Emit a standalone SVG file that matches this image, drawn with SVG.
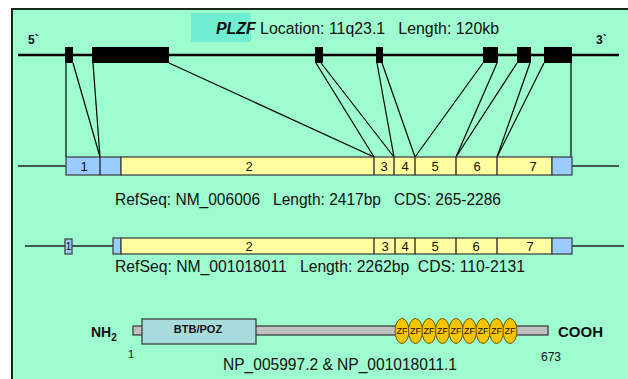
<svg xmlns="http://www.w3.org/2000/svg" width="628" height="379" viewBox="0 0 628 379">
<style>
text{font-family:"Liberation Sans",Arial,sans-serif;fill:#111}
.t{font-size:16px}
.n{font-size:13px}
.b{font-weight:bold}
.gl{stroke:#000;stroke-width:2.5}
.ex{fill:#000}
.c{stroke:#000;stroke-width:1.2;fill:none}
.y{fill:#ffffa0;stroke:#444;stroke-width:1.3}
.bl{fill:#99ccff;stroke:#444;stroke-width:1.3}
.tl{stroke:#222;stroke-width:1.3}
.zf{fill:#f7c400;stroke:#6a5a00;stroke-width:1}
.zt{font-size:9px;fill:#7a6a10}
</style>
<rect x="0" y="0" width="628" height="379" fill="#fff"/>
<rect x="12" y="9" width="640" height="400" fill="#9dfdcf" stroke="#1a2a1a" stroke-width="2"/>

<g id="title">
<rect x="191" y="13" width="60" height="29" fill="#6feed2"/>
<text class="t" x="216" y="34" xml:space="preserve" textLength="283" lengthAdjust="spacingAndGlyphs"><tspan class="b" font-style="italic">PLZF</tspan> Location: 11q23.1   Length: 120kb</text>
</g>

<g id="genomic">
<text class="b" font-size="12" x="28" y="44">5`</text>
<text class="b" font-size="12" x="596" y="44">3`</text>
<line class="gl" x1="18" y1="55" x2="619" y2="55"/>
<rect class="ex" x="65" y="47" width="8" height="16"/>
<rect class="ex" x="92" y="47" width="77" height="16"/>
<rect class="ex" x="315" y="47" width="8" height="16"/>
<rect class="ex" x="376" y="47" width="7" height="16"/>
<rect class="ex" x="483" y="47" width="15" height="16"/>
<rect class="ex" x="517" y="47" width="14" height="16"/>
<rect class="ex" x="544" y="47" width="28" height="16"/>
</g>

<g id="connectors">
<line class="c" x1="66" y1="63" x2="66" y2="157"/>
<line class="c" x1="73" y1="63" x2="100" y2="157"/>
<line class="c" x1="93" y1="63" x2="100" y2="157"/>
<line class="c" x1="169" y1="63" x2="374" y2="157"/>
<line class="c" x1="316" y1="63" x2="374" y2="157"/>
<line class="c" x1="321" y1="63" x2="394" y2="157"/>
<line class="c" x1="377" y1="63" x2="394" y2="157"/>
<line class="c" x1="382" y1="63" x2="415" y2="157"/>
<line class="c" x1="483" y1="63" x2="415" y2="157"/>
<line class="c" x1="497" y1="63" x2="456" y2="157"/>
<line class="c" x1="517" y1="63" x2="456" y2="157"/>
<line class="c" x1="530" y1="63" x2="497" y2="157"/>
<line class="c" x1="544" y1="63" x2="497" y2="157"/>
<line class="c" x1="571" y1="63" x2="571" y2="157"/>
</g>

<g id="mrna1">
<line class="tl" x1="18" y1="166" x2="66" y2="166"/>
<line class="tl" x1="572" y1="166" x2="619" y2="166"/>
<rect class="bl" x="66" y="157" width="55" height="18"/>
<line class="tl" x1="100" y1="157" x2="100" y2="175"/>
<rect class="y" x="121" y="157" width="431" height="18"/>
<rect class="bl" x="552" y="157" width="20" height="18"/>
<line class="tl" x1="374" y1="157" x2="374" y2="175"/>
<line class="tl" x1="394" y1="157" x2="394" y2="175"/>
<line class="tl" x1="415" y1="157" x2="415" y2="175"/>
<line class="tl" x1="456" y1="157" x2="456" y2="175"/>
<line class="tl" x1="497" y1="157" x2="497" y2="175"/>
<g class="n" text-anchor="middle">
<text x="84" y="171">1</text>
<text x="249" y="171">2</text>
<text x="384" y="171">3</text>
<text x="405" y="171">4</text>
<text x="435" y="171">5</text>
<text x="477" y="171">6</text>
<text x="533" y="171">7</text>
</g>
<text class="t" x="115" y="205" xml:space="preserve" textLength="386" lengthAdjust="spacingAndGlyphs">RefSeq: NM_006006   Length: 2417bp   CDS: 265-2286</text>
</g>

<g id="mrna2">
<line class="tl" x1="25" y1="246" x2="113" y2="246"/>
<line class="tl" x1="572" y1="246" x2="624" y2="246"/>
<rect class="bl" x="65" y="239" width="7" height="15"/>
<rect class="bl" x="113" y="238" width="8" height="16"/>
<rect class="y" x="121" y="238" width="431" height="16"/>
<rect class="bl" x="552" y="238" width="20" height="16"/>
<line class="tl" x1="374" y1="238" x2="374" y2="254"/>
<line class="tl" x1="395" y1="238" x2="395" y2="254"/>
<line class="tl" x1="415" y1="238" x2="415" y2="254"/>
<line class="tl" x1="456" y1="238" x2="456" y2="254"/>
<line class="tl" x1="497" y1="238" x2="497" y2="254"/>
<g class="n" text-anchor="middle">
<text x="68.5" y="250" font-size="10">1</text>
<text x="249" y="251">2</text>
<text x="385" y="251">3</text>
<text x="405" y="251">4</text>
<text x="435" y="251">5</text>
<text x="476" y="251">6</text>
<text x="530" y="251">7</text>
</g>
<text class="t" x="115" y="272" xml:space="preserve" textLength="410" lengthAdjust="spacingAndGlyphs">RefSeq: NM_001018011   Length: 2262bp  CDS: 110-2131</text>
</g>

<g id="protein">
<rect x="133" y="326" width="415" height="9" fill="#c0c0c0" stroke="#333" stroke-width="1.2"/>
<rect x="142" y="319" width="114" height="25" fill="#a8dcdc" stroke="#333" stroke-width="1.2"/>
<text class="b" font-size="11" x="198" y="333" text-anchor="middle">BTB/POZ</text>
<g id="zf">
<ellipse class="zf" cx="402" cy="331" rx="7" ry="12.5"/>
<ellipse class="zf" cx="415.5" cy="331" rx="7" ry="12.5"/>
<ellipse class="zf" cx="429" cy="331" rx="7" ry="12.5"/>
<ellipse class="zf" cx="442.5" cy="331" rx="7" ry="12.5"/>
<ellipse class="zf" cx="456" cy="331" rx="7" ry="12.5"/>
<ellipse class="zf" cx="469.5" cy="331" rx="7" ry="12.5"/>
<ellipse class="zf" cx="483" cy="331" rx="7" ry="12.5"/>
<ellipse class="zf" cx="496.5" cy="331" rx="7" ry="12.5"/>
<ellipse class="zf" cx="510" cy="331" rx="7" ry="12.5"/>
<g class="zt" text-anchor="middle">
<text x="402" y="334">ZF</text><text x="415.5" y="334">ZF</text><text x="429" y="334">ZF</text>
<text x="442.5" y="334">ZF</text><text x="456" y="334">ZF</text><text x="469.5" y="334">ZF</text>
<text x="483" y="334">ZF</text><text x="496.5" y="334">ZF</text><text x="510" y="334">ZF</text>
</g>
</g>
<text class="b" font-size="14" x="91" y="337">NH<tspan font-size="10" dy="4">2</tspan></text>
<text class="b" font-size="15" x="558" y="337">COOH</text>
<text font-size="11" x="128" y="358">1</text>
<text font-size="12" x="541" y="361">673</text>
<text class="t" x="223" y="370" textLength="234" lengthAdjust="spacingAndGlyphs">NP_005997.2 &amp; NP_001018011.1</text>
</g>
</svg>
